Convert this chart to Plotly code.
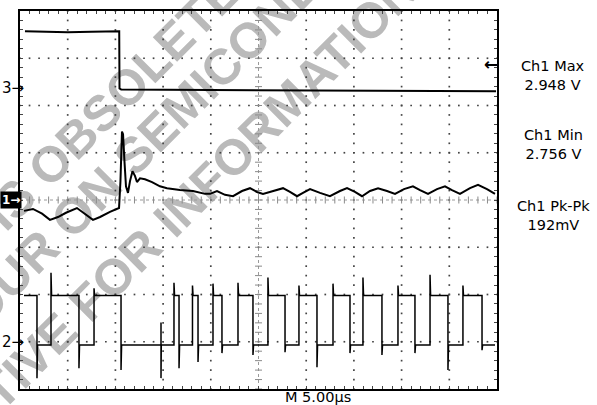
import plotly.graph_objects as go
import numpy as np

# ---------------- data (time in µs, amplitude in screen divisions) ----------------
ch3_t = [0.52, 2.5, 5.0, 7.5, 10.40, 10.43, 10.6, 20.0, 30.0, 40.0, 49.9]
ch3_v = [3.57, 3.56, 3.55, 3.56, 3.57, 2.36, 2.34, 2.33, 2.32, 2.31, 2.30]

ch1_t = [0.42, 1.36, 2.31, 3.14, 3.98, 4.82, 5.97, 6.81, 7.65, 8.39, 9.43, 10.38,
         10.53, 10.69, 10.80, 10.95, 11.11, 11.32, 11.53, 11.79, 12.05, 12.26, 12.58,
         13.10, 13.84, 14.67, 15.41, 16.77, 18.13, 19.39, 19.92, 20.65, 21.49, 22.33,
         23.27, 24.11, 24.84, 25.47, 26.41, 27.57, 28.30, 29.04, 29.66, 30.40, 31.45,
         32.49, 33.54, 34.28, 35.11, 35.85, 36.69, 37.53, 38.47, 39.31, 40.25, 41.19,
         41.93, 42.77, 43.71, 44.55, 45.28, 46.12, 47.17, 48.01, 48.95, 49.79]
ch1_v = [-0.23, -0.19, -0.29, -0.42, -0.36, -0.27, -0.17, -0.29, -0.42, -0.36, -0.25, -0.17,
         0.40, 1.45, 1.39, 0.82, 0.29, 0.15, 0.40, 0.61, 0.51, 0.38, 0.46,
         0.44, 0.38, 0.29, 0.25, 0.21, 0.19, 0.13, 0.13, 0.19, 0.11, 0.08,
         0.19, 0.25, 0.17, 0.13, 0.19, 0.25, 0.17, 0.08, 0.15, 0.23, 0.15,
         0.08, 0.19, 0.25, 0.17, 0.08, 0.19, 0.25, 0.19, 0.13, 0.23, 0.29,
         0.21, 0.13, 0.23, 0.29, 0.21, 0.13, 0.25, 0.32, 0.23, 0.13]

ch2_start_t = 0.42
ch2_end_t = 49.79
ch2_high = -2.02
ch2_low = -3.07
ch2_rise_t = [3.25, 7.76, 16.14, 18.08, 20.23, 22.85, 25.99, 29.24, 32.81, 35.95, 39.62, 42.98, 46.43]
ch2_rise_peak = [-1.54, -1.87, -1.75, -1.81, -1.77, -1.75, -1.64, -1.81, -1.77, -1.64, -1.81, -1.58, -1.81]
ch2_fall_t = [1.78, 6.18, 10.59, 16.67, 18.66, 21.17, 24.42, 27.78, 31.13, 34.59, 37.94, 41.40, 44.86, 48.43]
ch2_fall_trough = [-3.77, -3.56, -3.60, -3.56, -3.43, -3.24, -3.28, -3.22, -3.54, -3.24, -3.28, -3.24, -3.60, -3.18]
ch2_glitch_t = 14.78
ch2_glitch_hi = -2.59
ch2_glitch_lo = -3.77

meas_labels = ["Ch1 Max<br>2.948 V", "Ch1 Min<br>2.756 V", "Ch1 Pk-Pk<br>192mV"]
timebase_label = "M 5.00µs"
channel_marks = ["3→", "1→", "2→"]
watermark_lines = ["IS OBSOLETE", "CONTACT YOUR ON SEMICONDUCTOR",
                   "REPRESENTATIVE FOR INFORMATION"]

# ---------------- geometry ----------------
W, H = 597, 405
L, R, T, B = 20, 100, 9, 16
PW, PH = W - L - R, H - T - B


def px_to_paper(px, py):
    return (px - L) / PW, (T + PH - py) / PH


# ---------------- build channel 2 path ----------------
events = [(t, "r", p) for t, p in zip(ch2_rise_t, ch2_rise_peak)]
events += [(t, "f", p) for t, p in zip(ch2_fall_t, ch2_fall_trough)]
events += [(ch2_glitch_t, "g", None)]
events.sort(key=lambda e: e[0])
c2x, c2y = [ch2_start_t], [ch2_high]
for t, kind, p in events:
    if kind == "r":
        c2x += [t, t, t + 0.06]
        c2y += [ch2_low, p, ch2_high]
    elif kind == "f":
        c2x += [t, t, t + 0.06]
        c2y += [ch2_high, p, ch2_low]
    else:
        c2x += [t, t, t, t + 0.03]
        c2y += [ch2_low, ch2_glitch_hi, ch2_glitch_lo, ch2_low]
c2x.append(ch2_end_t)
c2y.append(ch2_low)

fig = go.Figure()

# ---------------- graticule dots ----------------
gx, gy = [], []
sub = np.arange(-4, 4.001, 0.2)
for k in range(1, 10):
    if k == 5:
        continue
    gx += [5 * k] * len(sub)
    gy += list(sub)
subx = np.arange(0, 50.001, 1.0)
for j in range(-3, 4):
    if j == 0:
        continue
    gx += list(subx)
    gy += [j] * len(subx)
fig.add_trace(go.Scatter(x=gx, y=gy, mode="markers", hoverinfo="skip",
                         marker=dict(symbol="square", size=1.7, color="#444444",
                                     line=dict(width=0))))
# center line ticks
fig.add_trace(go.Scatter(x=list(subx), y=[0] * len(subx), mode="markers", hoverinfo="skip",
                         marker=dict(symbol="line-ns", size=5, color="#8a8a8a",
                                     line=dict(width=1, color="#8a8a8a"))))
fig.add_trace(go.Scatter(x=[25] * len(sub), y=list(sub), mode="markers", hoverinfo="skip",
                         marker=dict(symbol="line-ew", size=5, color="#8a8a8a",
                                     line=dict(width=1, color="#8a8a8a"))))

# ---------------- traces ----------------
fig.add_trace(go.Scatter(x=ch3_t, y=ch3_v, mode="lines", line=dict(color="black", width=2)))
fig.add_trace(go.Scatter(x=ch1_t, y=ch1_v, mode="lines", line=dict(color="black", width=2)))
fig.add_trace(go.Scatter(x=c2x, y=c2y, mode="lines", line=dict(color="black", width=1.5)))

shapes = [
    dict(type="line", xref="x", yref="y", x0=0, x1=50, y0=0, y1=0, layer="below",
         line=dict(color="#9a9a9a", width=1, dash="dot")),
    dict(type="line", xref="x", yref="y", x0=25, x1=25, y0=-4, y1=4, layer="below",
         line=dict(color="#9a9a9a", width=1, dash="dot")),
]
# watermark
wm_centers_px = [(109, 97), (100, 181), (78, 305)]
for txt, (cx, cy) in zip(watermark_lines, wm_centers_px):
    px0, py0 = px_to_paper(cx - 1, cy + 1)
    px1, py1 = px_to_paper(cx + 1, cy - 1)
    shapes.append(dict(type="line", xref="paper", yref="paper", x0=px0, y0=py0, x1=px1, y1=py1,
                       layer="below", line=dict(color="rgba(0,0,0,0)", width=0),
                       label=dict(text="<b>" + txt + "</b>", textangle=-45,
                                  textposition="middle",
                                  xanchor="center", yanchor="middle", padding=0,
                                  font=dict(family="Liberation Sans", size=50,
                                            color="#bababa"))))

annotations = []
meas_y_px = [73.5, 143, 214.5]
for txt, ypx in zip(meas_labels, meas_y_px):
    xp, yp = px_to_paper(553, ypx)
    annotations.append(dict(text=txt, x=xp, y=yp, xref="paper", yref="paper", showarrow=False,
                            xanchor="center", yanchor="middle", align="center",
                            font=dict(family="DejaVu Sans", size=14.5, color="black")))
xp, yp = px_to_paper(318, 397.5)
annotations.append(dict(text=timebase_label, x=xp, y=yp, xref="paper", yref="paper",
                        showarrow=False, xanchor="center", yanchor="middle",
                        font=dict(family="DejaVu Sans", size=14.5, color="black")))
# channel markers
for txt, ypx in zip(channel_marks, [86, 199, 342]):
    xp, yp = px_to_paper(0, ypx)
    if txt.startswith("1"):
        annotations.append(dict(text="<b>" + txt + "</b>", x=xp, y=yp, xref="paper",
                                yref="paper", showarrow=False, xanchor="left",
                                yanchor="middle", bgcolor="black", borderpad=1,
                                font=dict(family="DejaVu Sans", size=12, color="white")))
    else:
        annotations.append(dict(text=txt, x=xp, y=yp, xref="paper", yref="paper",
                                showarrow=False, xanchor="left", yanchor="middle",
                                font=dict(family="DejaVu Sans", size=15, color="black")))
# trigger level arrow at right edge
xp, yp = px_to_paper(491, 62)
annotations.append(dict(text="<b>←</b>", x=xp, y=yp, xref="paper", yref="paper",
                        showarrow=False, xanchor="center", yanchor="middle",
                        font=dict(family="DejaVu Sans", size=17, color="black")))

axis_common = dict(showgrid=False, zeroline=False, showticklabels=False, showline=True,
                   linecolor="black", linewidth=1.5, mirror="allticks", ticks="inside",
                   ticklen=3, tickcolor="#444444", tickwidth=1, fixedrange=True)
fig.update_xaxes(range=[0, 50], dtick=5, tick0=0,
                 minor=dict(ticks="inside", dtick=1, ticklen=3, tickcolor="#444444"),
                 **axis_common)
fig.update_yaxes(range=[-4, 4], dtick=1, tick0=0,
                 minor=dict(ticks="inside", dtick=0.2, ticklen=3, tickcolor="#444444"),
                 **axis_common)

fig.update_layout(width=W, height=H, margin=dict(l=L, r=R, t=T, b=B),
                  plot_bgcolor="white", paper_bgcolor="white", showlegend=False,
                  shapes=shapes, annotations=annotations)

fig.write_html("out.html", config={"displayModeBar": False},
               post_script="document.body.style.margin='0';document.body.style.overflow='hidden';")
